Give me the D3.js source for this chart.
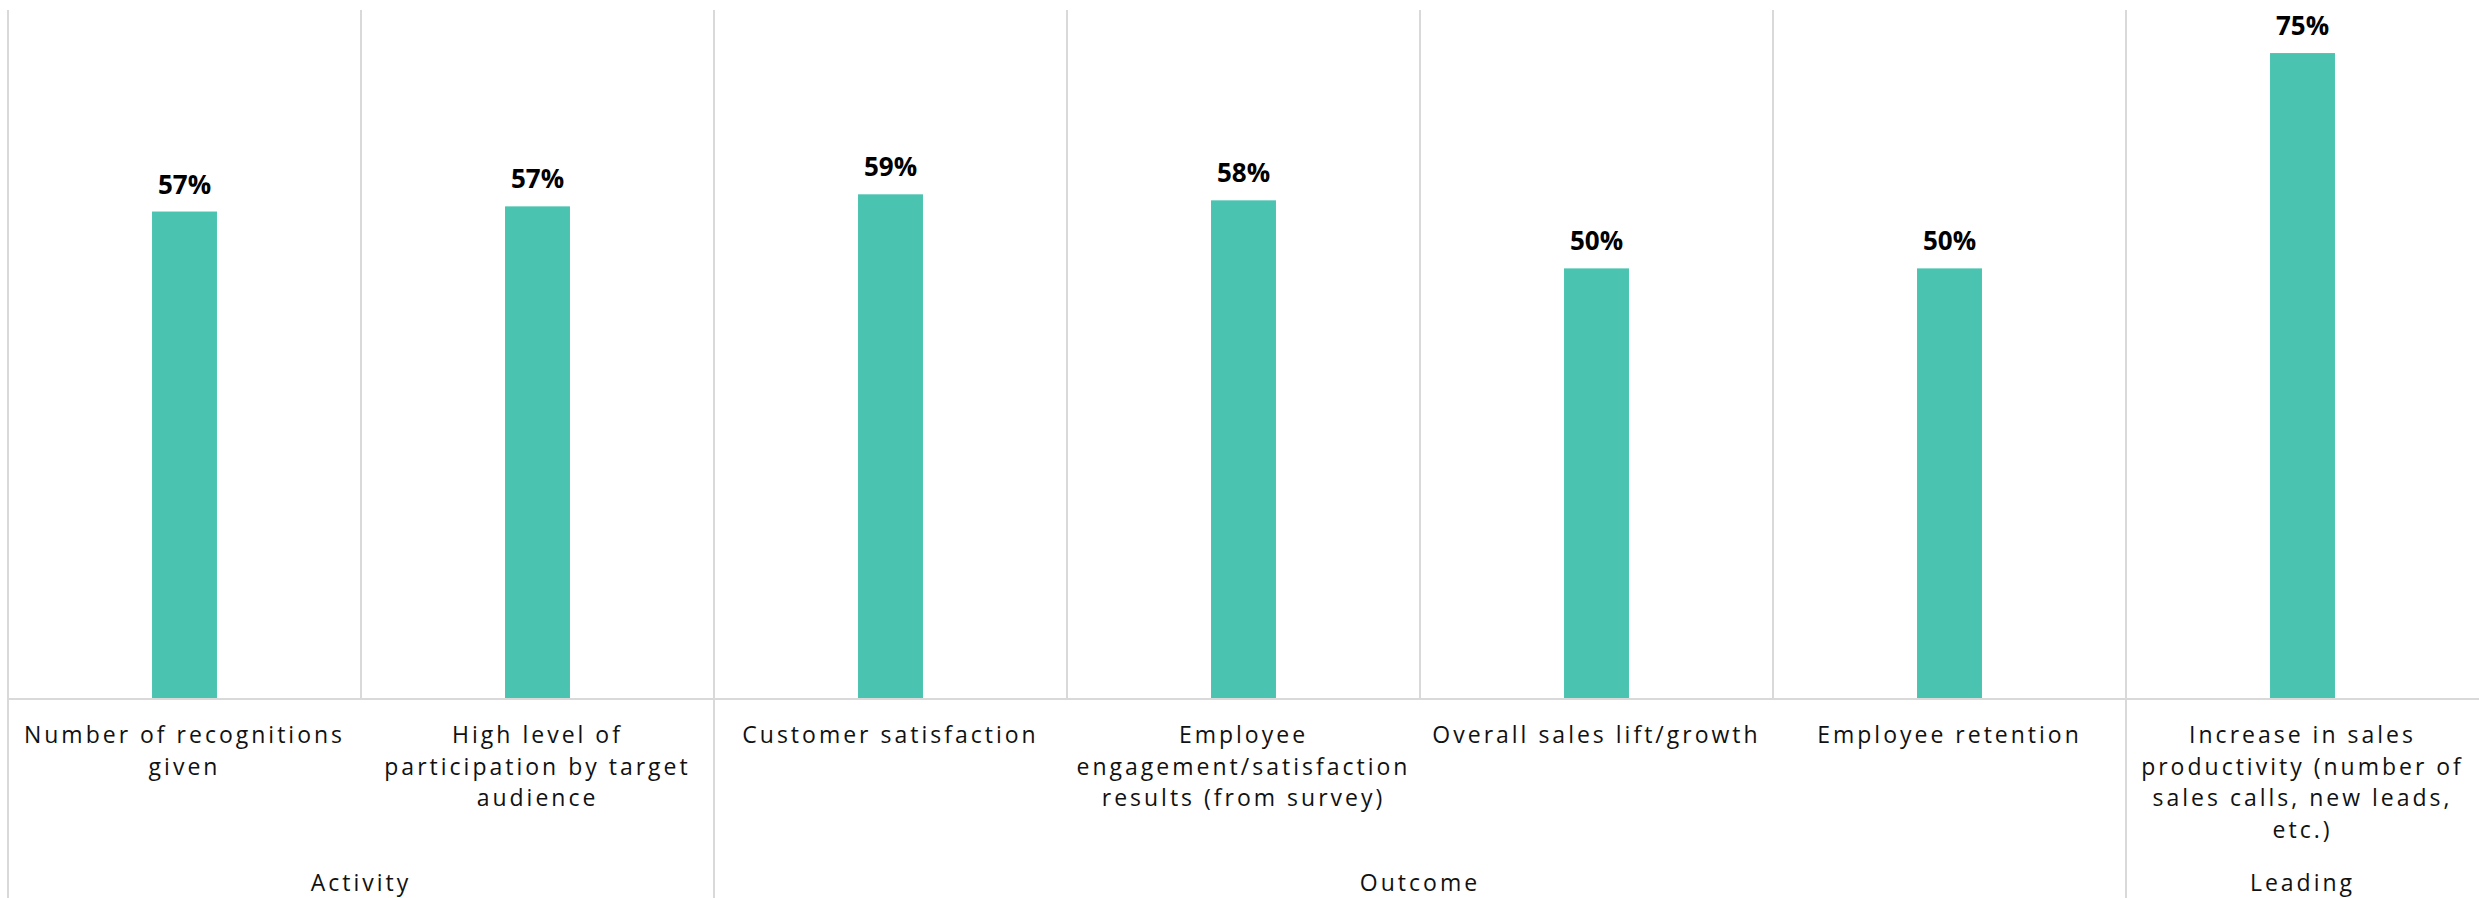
<!DOCTYPE html>
<html>
<head>
<meta charset="utf-8">
<script src="https://cdn.jsdelivr.net/npm/d3@7"></script>
<style>
  body { margin: 0; background: #fff; }
  svg { display: block; }
  .cat-label, .group-label { font-family: "Open Sans", sans-serif; font-size: 23px; letter-spacing: 3px; fill: #111; }
  .value-label { font-family: "Open Sans", sans-serif; font-size: 26px; font-weight: bold; fill: #000; }
</style>
</head>
<body>
<svg id="chart"></svg>
<script>
/* data */
const categories = [
	"Number of recognitions given",
	"High level of participation by target audience",
	"Customer satisfaction",
	"Employee engagement/satisfaction results (from survey)",
	"Overall sales lift/growth",
	"Employee retention",
	"Increase in sales productivity (number of sales calls, new leads, etc.)"
];
const values = [56.6, 57.2, 58.6, 57.9, 50.0, 50.0, 75.0];
const categoryGroups = ["Activity", "Activity", "Outcome", "Outcome", "Outcome", "Outcome", "Leading"];
const groups = ["Activity", "Outcome", "Leading"];

// 描画サイズ
const width = 2479;
const height = 898;
const margin = {top: 10, left: 8, right: 0, bottom: 199};
const barColor = "#4ac4b1";
const lineColor = "#d9d9d9";

const svg = d3.select("#chart").attr("width", width).attr("height", height);

const x = d3.scaleBand()
	.domain(categories)
	.range([margin.left, width - margin.right])
	.padding(0);

const y = d3.scaleLinear()
	.domain([0, 80])
	.range([height - margin.bottom, margin.top]);

const baseY = y(0);
const barW = x.bandwidth() * 0.184;

// カテゴリ境界の縦線（グループ境界は下まで伸ばす）
const boundaries = categories.map((c, i) => ({
	x: x(c),
	isGroupStart: i === 0 || categoryGroups[i] !== categoryGroups[i - 1]
}));
svg.append("g").selectAll("line").data(boundaries).enter()
	.append("line")
	.attr("x1", d => d.x).attr("x2", d => d.x)
	.attr("y1", y.range()[1])
	.attr("y2", d => d.isGroupStart ? height : baseY)
	.attr("stroke", lineColor)
	.attr("stroke-width", 2);

// 棒
svg.append("g").selectAll("rect").data(categories).enter()
	.append("rect")
	.attr("x", d => x(d) + x.bandwidth() / 2 - barW / 2)
	.attr("y", (d, i) => y(values[i]))
	.attr("width", barW)
	.attr("height", (d, i) => baseY - y(values[i]))
	.attr("fill", barColor);

// 値ラベル
svg.append("g").selectAll("text").data(categories).enter()
	.append("text")
	.attr("class", "value-label")
	.attr("text-anchor", "middle")
	.attr("x", d => x(d) + x.bandwidth() / 2)
	.attr("y", (d, i) => y(values[i]) - 18)
	.text((d, i) => Math.round(values[i]) + "%");

// 横軸
svg.append("line")
	.attr("x1", margin.left).attr("x2", width)
	.attr("y1", baseY).attr("y2", baseY)
	.attr("stroke", lineColor)
	.attr("stroke-width", 2);

// カテゴリラベル（折り返し）
const catText = svg.append("g").selectAll("text").data(categories).enter()
	.append("text")
	.attr("class", "cat-label")
	.attr("text-anchor", "middle")
	.attr("x", d => x(d) + x.bandwidth() / 2)
	.attr("y", baseY + 44)
	.text(d => d);
catText.call(wrap, x.bandwidth() - 12, 31.5);

// グループラベル
svg.append("g").selectAll("text").data(groups).enter()
	.append("text")
	.attr("class", "group-label")
	.attr("text-anchor", "middle")
	.attr("x", g => {
		const members = categories.filter((c, i) => categoryGroups[i] === g);
		return (x(members[0]) + x(members[members.length - 1]) + x.bandwidth()) / 2;
	})
	.attr("y", height - 7)
	.text(g => g);

function wrap(texts, maxWidth, lineHeight) {
	texts.each(function() {
		const text = d3.select(this);
		const words = text.text().split(/\s+/);
		const cx = text.attr("x");
		const y0 = +text.attr("y");
		text.text(null);
		let line = [];
		let lineNo = 0;
		let tspan = text.append("tspan").attr("x", cx).attr("y", y0);
		words.forEach(w => {
			line.push(w);
			tspan.text(line.join(" "));
			if (tspan.node().getComputedTextLength() > maxWidth && line.length > 1) {
				line.pop();
				tspan.text(line.join(" "));
				line = [w];
				lineNo++;
				tspan = text.append("tspan").attr("x", cx).attr("y", y0 + lineNo * lineHeight).text(w);
			}
		});
	});
}
</script>
</body>
</html>
